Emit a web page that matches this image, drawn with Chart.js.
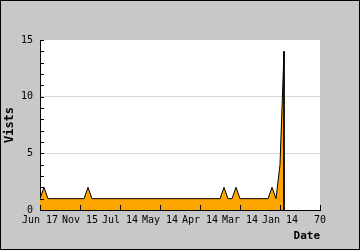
<!DOCTYPE html>
<html>
<head>
<meta charset="utf-8">
<script src="https://cdn.jsdelivr.net/npm/chart.js"></script>
<style>
  body { margin: 0; background: #c8c8c8; }
  canvas { display: block; }
</style>
</head>
<body>
<canvas id="visitsChart" width="360" height="250"></canvas>
<script>
// visits per sample, one entry per x step (0..61)
const visits = [1, 2, 1, 1, 1, 1, 1, 1, 1, 1,
                1, 1, 2, 1, 1, 1, 1, 1, 1, 1,
                1, 1, 1, 1, 1, 1, 1, 1, 1, 1,
                1, 1, 1, 1, 1, 1, 1, 1, 1, 1,
                1, 1, 1, 1, 1, 1, 2, 1, 1, 2,
                1, 1, 1, 1, 1, 1, 1, 1, 2, 1,
                4, 14];
// label shown every 10 steps on the x axis
const dateLabels = ['Jun 17', 'Nov 15', 'Jul 14', 'May 14', 'Apr 14', 'Mar 14', 'Jan 14', '70'];
const xMax = 70;
const yMax = 15;

const monoFont = 'DejaVu Sans Mono';

const points = visits.map((v, i) => ({x: i, y: v}));
// close the area with a drop back to zero, like the original
points.push({x: visits.length - 1, y: 0});

const frame = {
  id: 'frame',
  beforeDraw(chart) {
    const {ctx, chartArea: a} = chart;
    ctx.save();
    ctx.fillStyle = '#c8c8c8';
    ctx.fillRect(0, 0, chart.width, chart.height);
    ctx.fillStyle = '#ffffff';
    ctx.fillRect(a.left, a.top, a.right - a.left, a.bottom - a.top);
    ctx.strokeStyle = '#000';
    ctx.lineWidth = 1;
    ctx.strokeRect(0.5, 0.5, chart.width - 1, chart.height - 1);
    ctx.restore();
  },
  afterDraw(chart) {
    const {ctx, chartArea: a, scales} = chart;
    ctx.save();
    ctx.strokeStyle = '#000';
    ctx.lineWidth = 1;
    ctx.beginPath();
    for (let v = 0; v <= yMax; v++) {
      const py = Math.round(scales.y.getPixelForValue(v)) + 0.5;
      ctx.moveTo(a.left, py);
      ctx.lineTo(a.left + 4, py);
    }
    scales.x.ticks.forEach(t => {
      const px = Math.round(scales.x.getPixelForValue(t.value)) + 0.5;
      ctx.moveTo(px, a.bottom);
      ctx.lineTo(px, a.bottom - 5);
    });
    ctx.stroke();
    ctx.restore();
  }
};

new Chart(document.getElementById('visitsChart'), {
  type: 'line',
  data: {
    datasets: [{
      data: points,
      fill: 'origin',
      backgroundColor: '#FFA500',
      borderColor: '#000',
      borderWidth: 1,
      pointRadius: 0,
      tension: 0
    }]
  },
  options: {
    responsive: false,
    animation: false,
    devicePixelRatio: 1,
    layout: { padding: { top: 40, right: 40, left: 0, bottom: 0 } },
    plugins: { legend: { display: false }, tooltip: { enabled: false } },
    scales: {
      x: {
        type: 'linear',
        min: 0,
        max: xMax,
        afterFit(scale) { scale.height = 40; },
        ticks: {
          stepSize: 10,
          autoSkip: false,
          maxRotation: 0,
          padding: 4,
          color: '#000',
          font: { family: monoFont, size: 10 },
          callback: v => dateLabels[v / 10] ?? ''
        },
        grid: { display: false, drawTicks: false },
        border: { display: true, color: '#000', width: 1 },
        title: {
          display: true,
          text: 'Date',
          align: 'end',
          color: '#000',
          font: { family: monoFont, size: 11, weight: 'bold' },
          padding: { top: 0, bottom: 7 }
        }
      },
      y: {
        min: 0,
        max: yMax,
        afterFit(scale) { scale.width = 40; },
        ticks: {
          stepSize: 5,
          padding: 7,
          color: '#000',
          font: { family: monoFont, size: 10 }
        },
        grid: {
          drawTicks: false,
          color: ctx => (ctx.tick && ctx.tick.value > 0 && ctx.tick.value < yMax) ? '#d9d9d9' : 'rgba(0,0,0,0)'
        },
        border: { display: true, color: '#000', width: 1 },
        title: {
          display: true,
          text: 'Vists',
          color: '#000',
          font: { family: monoFont, size: 12, weight: 'bold' },
          padding: { top: 3, bottom: 0 }
        }
      }
    }
  },
  plugins: [frame]
});
</script>
</body>
</html>
